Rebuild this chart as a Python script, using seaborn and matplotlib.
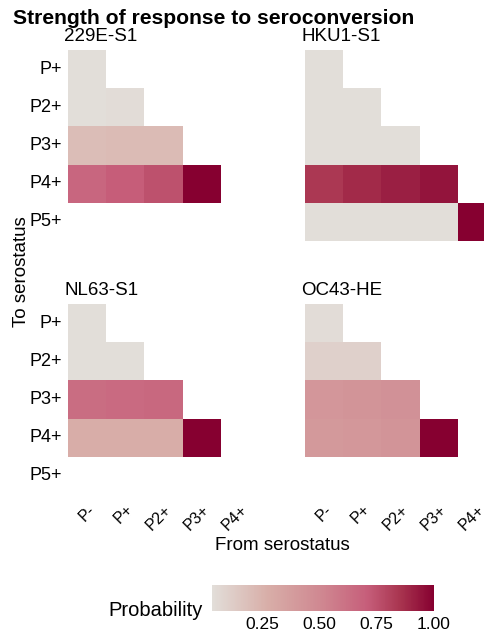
import numpy as np
import pandas as pd
import matplotlib
matplotlib.use("Agg")
import matplotlib.pyplot as plt
import seaborn as sns
from matplotlib.colors import LinearSegmentedColormap, Normalize
from matplotlib.cm import ScalarMappable

# serostatus labels
from_labels = ["P-", "P+", "P2+", "P3+", "P4+"]
to_labels = ["P+", "P2+", "P3+", "P4+", "P5+"]
antigens = ["229E-S1", "HKU1-S1", "NL63-S1", "OC43-HE"]

# probability rows (to status), one value per 'from' status
e229_rows = [[0.03], [0.03, 0.04], [0.20, 0.21, 0.21], [0.67, 0.71, 0.75, 1.00], []]
hku1_rows = [[0.03], [0.03, 0.03], [0.03, 0.03, 0.03], [0.84, 0.88, 0.91, 0.94],
             [0.03, 0.03, 0.03, 0.03, 1.00]]
nl63_rows = [[0.03], [0.03, 0.03], [0.64, 0.65, 0.66], [0.28, 0.28, 0.28, 1.00], []]
oc43_rows = [[0.04], [0.10, 0.10], [0.42, 0.43, 0.45], [0.40, 0.41, 0.43, 1.00], []]


def to_frame(rows):
    mat = np.full((len(to_labels), len(from_labels)), np.nan)
    for i, r in enumerate(rows):
        mat[i, :len(r)] = r
    return pd.DataFrame(mat, index=to_labels, columns=from_labels)


frames = [to_frame(r) for r in [e229_rows, hku1_rows, nl63_rows, oc43_rows]]
vmin = min(np.nanmin(f.values) for f in frames)
vmax = 1.0

cmap = LinearSegmentedColormap.from_list(
    "sero", [(0.0, "#E2DED9"), (0.25, "#D8AEA8"), (0.5, "#CF8690"),
             (0.7, "#C65E7A"), (0.85, "#A8344F"), (1.0, "#860030")])

sns.set_style("white")
plt.rcParams["font.family"] = ["Liberation Sans", "DejaVu Sans"]
plt.rcParams["text.color"] = "black"
plt.rcParams["xtick.labelcolor"] = "black"
plt.rcParams["ytick.labelcolor"] = "black"

W, H = 485, 638
fig = plt.figure(figsize=(W / 100, H / 100), dpi=100)


def px_axes(x0, y0, x1, y1):
    return fig.add_axes([x0 / W, 1 - y1 / H, (x1 - x0) / W, (y1 - y0) / H])


boxes = [(68, 50, 259, 241), (305, 50, 496, 241),
         (68, 304, 259, 495), (305, 304, 496, 495)]

for k, (df, name, box) in enumerate(zip(frames, antigens, boxes)):
    ax = px_axes(*box)
    sns.heatmap(df, ax=ax, cmap=cmap, vmin=vmin, vmax=vmax, cbar=False,
                square=False)
    ax.tick_params(length=0)
    ax.set_xlabel("")
    ax.set_ylabel("")
    if k % 2 == 0:
        ax.set_yticklabels(to_labels, rotation=0, fontsize=13)
        ax.tick_params(axis="y", pad=4)
    else:
        ax.set_yticks([])
    if k >= 2:
        ax.set_xticklabels(from_labels, rotation=45, ha="right",
                           rotation_mode="anchor", fontsize=11.5)
        ax.tick_params(axis="x", pad=5)
    else:
        ax.set_xticks([])
    ax.text(-0.02, 1.025, name, transform=ax.transAxes, ha="left", va="bottom",
            fontsize=13.5)

fig.text(13 / W, 1 - 18 / H, "Strength of response to seroconversion",
         fontsize=15.2, fontweight="bold", ha="left", va="center")
fig.text(282 / W, 1 - 546 / H, "From serostatus", fontsize=13.5,
         ha="center", va="center")
fig.text(22 / W, 1 - 272 / H, "To serostatus", fontsize=13.5,
         rotation=90, ha="center", va="center")

# colour bar legend
cax = px_axes(212, 585, 434, 611)
sm = ScalarMappable(norm=Normalize(vmin=vmin, vmax=vmax), cmap=cmap)
cb = fig.colorbar(sm, cax=cax, orientation="horizontal",
                  ticks=[0.25, 0.5, 0.75, 1.0])
cb.outline.set_visible(False)
cb.ax.set_xticklabels(["0.25", "0.50", "0.75", "1.00"], fontsize=12.5)
cb.ax.tick_params(axis="x", direction="in", color="white", length=5,
                  width=0.8, top=True, bottom=True, pad=4)
fig.text(203 / W, 1 - 611 / H, "Probability", fontsize=14.5,
         ha="right", va="center")

fig.savefig("out.png", dpi=100)
